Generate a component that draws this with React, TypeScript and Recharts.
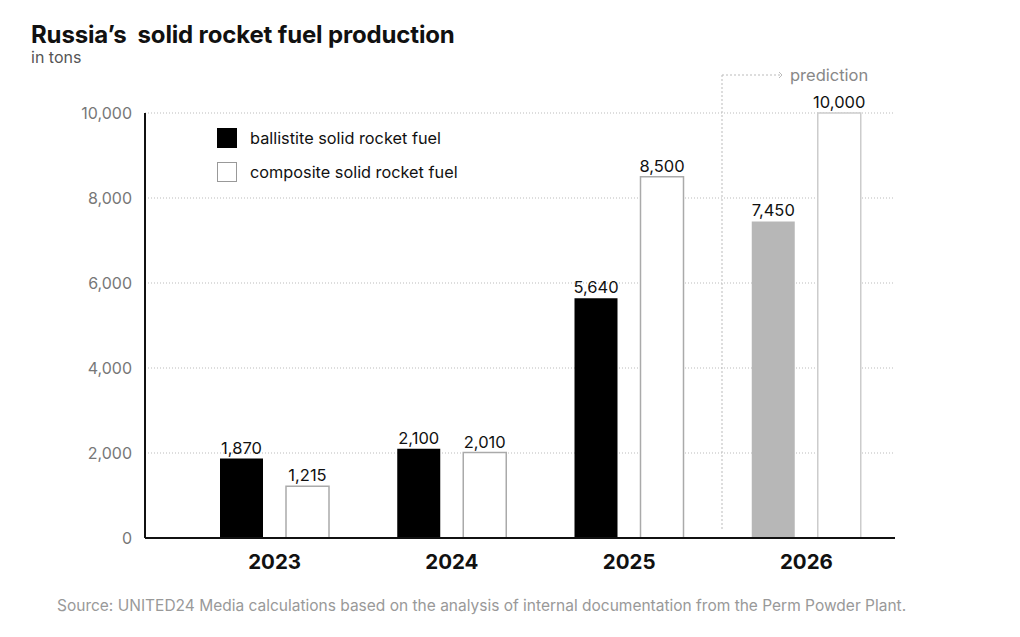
import React from 'react';
import { BarChart, Bar, XAxis, YAxis, CartesianGrid, LabelList, Cell } from 'recharts';

const years = ['2023', '2024', '2025', '2026'];
const ballistite = [1870, 2100, 5640, 7450];
const composite = [1215, 2010, 8500, 10000];
const yTicks = [0, 2000, 4000, 6000, 8000, 10000];
const predicted = [false, false, false, true];

const data = years.map((y, i) => ({
  year: y,
  ballistite: ballistite[i],
  composite: composite[i],
  predicted: predicted[i],
}));

const FONT = 'Inter, "Noto Sans", sans-serif';
const fmt = (v: number) => v.toLocaleString('en-US');

export default function App() {
  return (
    <div style={{ position: 'absolute', left: 0, top: 0, width: 1020, height: 637, background: '#fff', fontFamily: FONT }}>
      <div style={{ position: 'absolute', left: 31, top: 25, fontSize: 24, lineHeight: '20px', fontWeight: 700, color: '#111', whiteSpace: 'pre', letterSpacing: -0.15 }}>
        {'Russia’s  solid rocket fuel production'}
      </div>
      <div style={{ position: 'absolute', left: 31, top: 50, fontSize: 16, lineHeight: '15px', color: '#555' }}>in tons</div>

      <div style={{ position: 'absolute', left: 0, top: 0 }}>
        <BarChart
          width={1020}
          height={637}
          data={data}
          margin={{ top: 113, right: 125, bottom: 69, left: 85 }}
          barSize={43}
          barGap={23}
        >
          <CartesianGrid vertical={false} stroke="#bbb" strokeDasharray="1 2" />
          <XAxis
            dataKey="year"
            height={30}
            padding={{ left: 41, right: 0 }}
            axisLine={{ stroke: '#111', strokeWidth: 2 }}
            tickLine={false}
            tickSize={0}
            tickMargin={16}
            tick={{ fill: '#111', fontSize: 20.5, fontWeight: 700, fontFamily: FONT }}
          />
          <YAxis
            width={60}
            domain={[0, 10000]}
            ticks={yTicks}
            tickFormatter={fmt}
            axisLine={{ stroke: '#111', strokeWidth: 2 }}
            tickLine={false}
            tickSize={0}
            tickMargin={13}
            tick={{ fill: '#777', fontSize: 16, fontFamily: FONT }}
          />
          <Bar dataKey="ballistite" fill="#000" isAnimationActive={false}>
            {data.map((d, i) => (
              <Cell key={i} fill={d.predicted ? '#b7b7b7' : '#000'} />
            ))}
            <LabelList dataKey="ballistite" position="top" offset={5} formatter={fmt} style={{ fill: '#111', fontSize: 16.5, fontFamily: FONT }} />
          </Bar>
          <Bar dataKey="composite" fill="#fff" stroke="#aaa" strokeWidth={1.5} isAnimationActive={false}>
            {data.map((d, i) => (
              <Cell key={i} fill="#fff" stroke={d.predicted ? '#ccc' : '#aaa'} strokeWidth={1.5} />
            ))}
            <LabelList dataKey="composite" position="top" offset={5} formatter={fmt} style={{ fill: '#111', fontSize: 16.5, fontFamily: FONT }} />
          </Bar>
        </BarChart>
      </div>

      <svg style={{ position: 'absolute', left: 0, top: 0 }} width={1020} height={637}>
        <line x1={722} y1={75} x2={722} y2={530} stroke="#bbb" strokeDasharray="2 2" strokeWidth={1} />
        <line x1={722} y1={75} x2={780} y2={75} stroke="#bbb" strokeDasharray="2 2" strokeWidth={1} />
        <polyline points="779,72 782,75 779,78" fill="none" stroke="#bbb" strokeWidth={1} />
        <text x={790} y={81} fontSize={16.5} fill="#888" fontFamily={FONT}>prediction</text>
      </svg>

      <div style={{ position: 'absolute', left: 217, top: 128, fontSize: 16.3, color: '#111' }}>
        <div style={{ display: 'flex', alignItems: 'center', height: 20 }}>
          <div style={{ width: 20, height: 20, background: '#000', boxSizing: 'border-box' }} />
          <span style={{ marginLeft: 13 }}>ballistite solid rocket fuel</span>
        </div>
        <div style={{ display: 'flex', alignItems: 'center', height: 20, marginTop: 14 }}>
          <div style={{ width: 20, height: 20, background: '#fff', border: '1px solid #999', boxSizing: 'border-box' }} />
          <span style={{ marginLeft: 13 }}>composite solid rocket fuel</span>
        </div>
      </div>

      <div style={{ position: 'absolute', left: 57, top: 596, fontSize: 15.5, color: '#999' }}>
        Source: UNITED24 Media calculations based on the analysis of internal documentation from the Perm Powder Plant.
      </div>
    </div>
  );
}
